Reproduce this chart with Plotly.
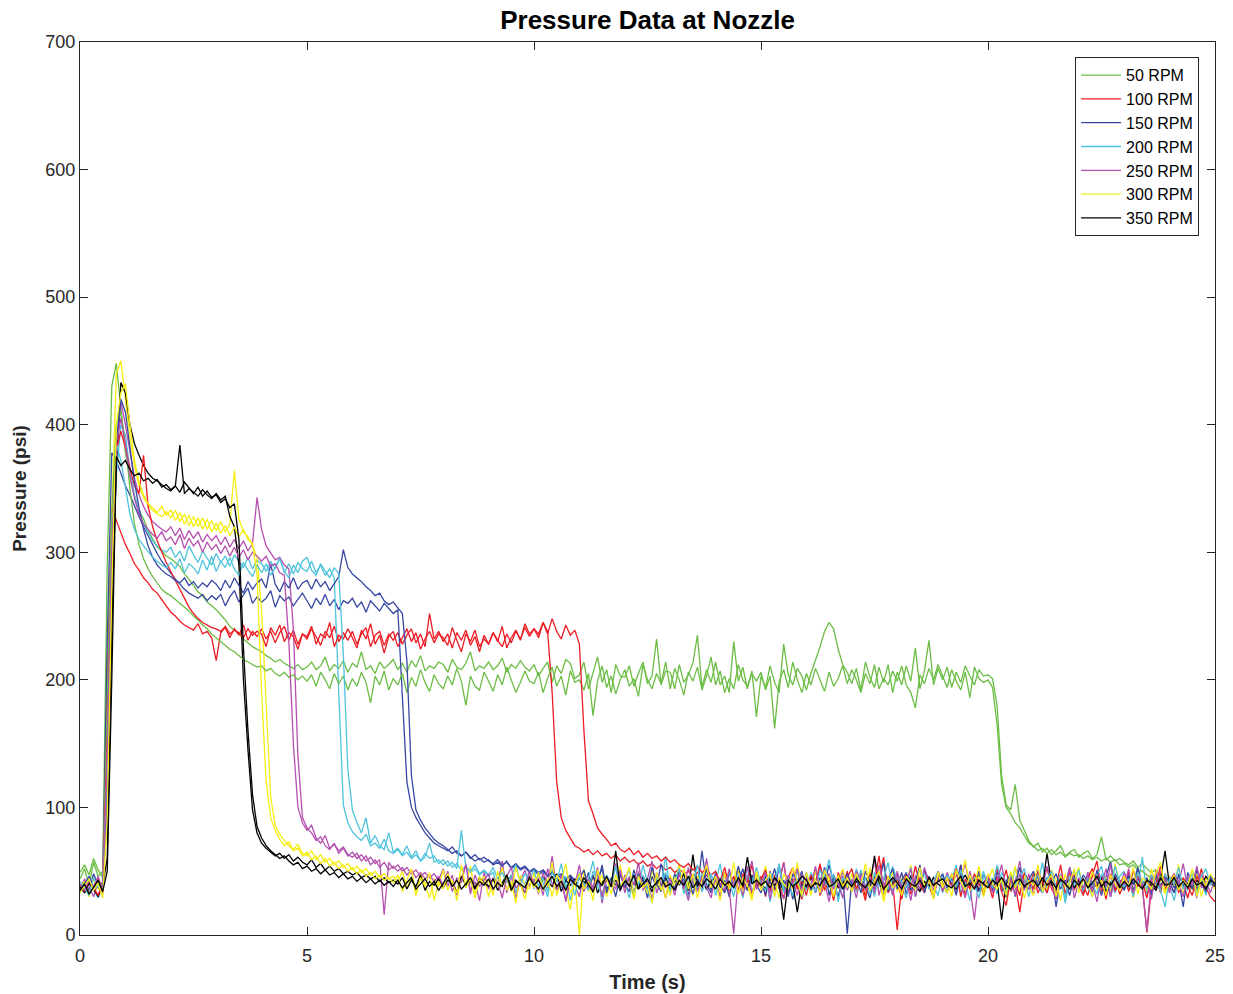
import plotly.graph_objects as go

# Time base: one sample every 0.1 s from 0 to 25 s
time_s = [round(i * 0.1, 1) for i in range(251)]

rpm_labels = ["50 RPM", "100 RPM", "150 RPM", "200 RPM", "250 RPM", "300 RPM", "350 RPM"]

# ---------------- 50 RPM ----------------
p50_a = [
    44, 52, 39, 57, 46, 50, 290, 430, 448, 415,
    378, 358, 344, 333, 326, 317, 311, 304, 301, 297,
    295, 292, 289, 283, 279, 274, 269, 266, 261, 258,
    255, 251, 247, 242, 239, 236, 232, 229, 226, 224,
    222, 219, 217, 214, 216, 213, 211, 209, 212, 208,
    210, 214, 208, 211, 218, 207, 212, 209, 215, 206,
    213, 210, 222, 208, 211, 205, 214, 209, 212, 216,
    208, 213, 206, 215, 210, 219, 207, 211, 209, 214,
    212, 206, 216, 210, 208, 213, 222, 207, 211, 209,
    214, 208, 211, 217, 206, 212, 209, 215, 210, 207,
    212, 203, 209, 214, 198, 211, 205, 216, 213, 201,
    204, 214, 193, 206, 218, 198, 208, 190, 212, 203,
    202, 211, 195, 205, 214, 197, 203, 232, 196, 207,
    206, 193, 212, 198, 204, 213, 235, 194, 208, 198,
    214, 196, 203, 190, 230, 199, 210, 193, 207, 171,
    203, 194, 211, 198, 190, 228, 204, 196, 209, 203,
    192, 205, 215, 226, 238, 245, 240, 224, 212, 206,
    197, 209, 192, 214, 202, 194, 210, 198, 212, 190,
    206, 196, 211, 199, 225, 193, 207, 231, 196, 209,
    200, 210, 194, 206, 198, 211, 203, 196, 208, 203,
    204, 201, 180, 125, 102, 98, 118, 90, 82, 74,
    69, 72, 65, 68, 63, 66, 70, 62, 65, 67,
    61, 64, 66, 60, 63, 77, 59, 62, 58, 60,
    57, 55, 58, 53, 56, 52, 49, 51, 47, 44,
    42, 46, 38, 41, 44, 36, 40, 43, 37, 41,
    39,
]
p50_b = [
    49, 55, 47, 60, 51, 45, 180, 330, 400, 410,
    385, 350, 322, 306, 295, 287, 281, 276, 271, 268,
    266, 263, 260, 257, 254, 250, 247, 243, 240, 236,
    233, 230, 227, 224, 222, 219, 216, 214, 212, 210,
    211, 207, 209, 205, 203, 206, 202, 204, 200, 203,
    199, 204, 195, 206, 200, 193, 205, 197, 203, 192,
    201, 195, 206, 198, 182, 203, 196, 207, 192, 201,
    196, 205, 190, 202, 195, 208, 198, 191, 204, 197,
    193, 203, 196, 209, 199, 180, 203, 195, 192, 206,
    199, 191, 204, 196, 210, 200, 190, 198, 207, 199,
    197, 206, 190, 201, 210, 195, 203, 188, 207, 198,
    200, 192, 205, 172, 199, 211, 194, 203, 189, 200,
    208, 195, 201, 187, 212, 200, 193, 205, 197, 214,
    193, 209, 200, 188, 206, 199, 210, 192, 203, 218,
    196, 207, 190, 201, 193, 212, 200, 195, 205, 199,
    206, 192, 203, 162, 199, 208, 194, 214, 200, 190,
    205, 196, 209, 200, 191, 206, 195, 201, 211, 197,
    208, 200, 190, 205, 197, 212, 193, 201, 196, 207,
    199, 211, 196, 190, 178, 204, 197, 209, 200, 212,
    203, 194, 208, 199, 192, 206, 186, 210, 201, 198,
    200, 194, 165, 118, 100, 95, 88, 84, 78, 72,
    70, 66, 68, 64, 67, 63, 65, 61, 64, 62,
    63, 60, 62, 59, 61, 58, 60, 57, 59, 55,
    56, 53, 55, 51, 50, 47, 45, 43, 46, 41,
    39, 43, 37, 40, 44, 38, 35, 41, 39, 42,
    40,
]

# ---------------- 100 RPM ----------------
p100_a = [
    36, 41, 33, 38, 45, 35, 200, 335, 325, 316,
    306, 299, 291, 286, 280, 276, 271, 268, 263, 258,
    253, 250, 246, 243, 241, 239, 244, 236, 238, 233,
    215, 237, 241, 233, 240, 235, 243, 231, 238, 234,
    240, 232, 238, 229, 237, 242, 231, 239, 228, 236,
    232, 240, 234, 227, 238, 233, 242, 230, 237, 231,
    238, 228, 236, 241, 226, 235, 238, 227, 236, 231,
    237, 228, 235, 240, 229, 236, 226, 252, 232, 238,
    230, 236, 225, 237, 231, 239, 227, 234, 222, 235,
    228, 237, 231, 226, 236, 229, 238, 232, 241, 234,
    240, 236, 245, 238, 190, 120, 92, 82, 76, 70,
    68, 65, 67, 63, 66, 62, 64, 60, 63, 58,
    61, 57, 59, 55, 58, 54, 56, 52, 55, 51,
    53, 49, 52, 48, 50, 46, 49, 44, 47, 43,
    45, 38, 49, 33, 43, 52, 36, 47, 31, 41,
    46, 30, 50, 35, 42, 57, 33, 44, 39, 28,
    45, 37, 52, 31, 40, 48, 29, 43, 38, 50,
    34, 46, 40, 27, 49, 38, 44, 61, 33, 41,
    4, 39, 47, 32, 42, 36, 51, 38, 29, 45,
    40, 33, 48, 37, 55, 31, 43, 39, 47, 35,
    42, 29, 46, 38, 51, 34, 40, 18, 44, 37,
    48, 33, 41, 53, 36, 30, 45, 39, 49, 35,
    43, 38, 31, 47, 58, 34, 42, 37, 46, 32,
    40, 49, 35, 44, 38, 2, 37, 45, 33, 48,
    39, 34, 46, 41, 29, 44, 37, 52, 36, 43,
    41,
]
p100_b = [
    40, 34, 43, 37, 31, 42, 150, 290, 380, 395,
    382, 366, 352, 346, 376, 336, 320, 309, 300, 292,
    285, 278, 270, 263, 257, 252, 248, 245, 243, 241,
    240, 238, 242, 236, 239, 237, 233, 240, 235, 238,
    236, 226, 241, 235, 243, 230, 237, 234, 224, 236,
    234, 242, 228, 236, 233, 245, 226, 235, 232, 240,
    233, 225, 239, 232, 244, 228, 235, 221, 234, 238,
    226, 233, 240, 230, 237, 224, 232, 238, 229, 236,
    233, 227, 241, 231, 222, 236, 230, 239, 226, 232,
    228, 237, 230, 242, 225, 233, 239, 231, 244, 236,
    240, 233, 245, 236, 248, 238, 232, 243, 235, 239,
    228, 160, 105, 95, 84, 79, 75, 70, 72, 67,
    65, 68, 63, 66, 61, 64, 60, 62, 58, 61,
    57, 59, 55, 53, 56, 51, 54, 49, 52, 47,
    50, 42, 53, 38, 46, 35, 48, 41, 55, 37,
    44, 51, 34, 47, 39, 29, 45, 53, 36, 42,
    31, 47, 40, 56, 35, 43, 27, 49, 38, 45,
    52, 36, 44, 30, 47, 41, 62, 35, 46, 39,
    43, 28, 48, 37, 54, 40, 33, 46, 38, 50,
    35, 45, 39, 52, 30, 44, 36, 48, 41, 33,
    47, 38, 53, 34, 23, 45, 40, 31, 49, 42,
    36, 50, 41, 33, 46, 38, 55, 32, 44, 47,
    39, 31, 45, 52, 37, 43, 28, 48, 35, 41,
    46, 34, 51, 38, 42, 29, 47, 40, 54, 36,
    42, 48, 33, 45, 38, 31, 46, 40, 37, 30,
    26,
]

# ---------------- 150 RPM ----------------
p150_a = [
    37, 43, 35, 48, 39, 41, 230, 378, 372, 362,
    352, 345, 336, 328, 320, 313, 305, 299, 293, 288,
    283, 279, 275, 271, 268, 266, 264, 267, 262, 266,
    263, 267, 258, 265, 270, 261, 266, 272, 260, 265,
    261, 264, 270, 257, 266, 262, 265, 258, 263, 268,
    262, 256, 264, 259, 267, 258, 263, 255, 262, 260,
    264, 257, 261, 253, 262, 258, 254, 260, 256, 252,
    255, 190, 120, 100, 92, 86, 80, 76, 72, 70,
    68, 66, 69, 64, 62, 65, 60, 63, 59, 61,
    58, 56, 59, 55, 57, 53, 56, 52, 54, 50,
    52, 49, 51, 47, 50, 46, 48, 44, 47, 43,
    45, 38, 49, 33, 44, 52, 36, 42, 30, 47,
    40, 34, 51, 38, 44, 29, 46, 37, 56, 41,
    35, 48, 39, 44, 31, 47, 36, 66, 40, 33,
    49, 37, 43, 30, 46, 41, 52, 35, 44, 38,
    44, 31, 48, 36, 53, 39, 45, 28, 42, 50,
    36, 47, 33, 45, 39, 55, 41, 30, 46, 1,
    43, 35, 50, 38, 29, 46, 40, 57, 34, 44,
    38, 49, 32, 45, 40, 36, 51, 43, 30, 47,
    41, 33, 47, 39, 55, 35, 44, 37, 50, 31,
    45, 38, 52, 34, 42, 48, 30, 46, 39, 43,
    36, 50, 41, 33, 47, 22, 45, 38, 53, 40,
    44, 35, 49, 37, 42, 31, 46, 58, 36, 43,
    39, 47, 34, 51, 40, 45, 32, 48, 37, 42,
    46, 37, 43, 22, 49, 41, 35, 47, 38, 44,
    40,
]
p150_b = [
    34, 40, 46, 36, 42, 33, 120, 290, 385, 420,
    410, 382, 355, 335, 318, 305, 296, 290, 286, 283,
    281, 278, 276, 280, 274, 277, 272, 276, 273, 278,
    275, 270, 278, 272, 280, 274, 268, 277, 271, 276,
    279, 272, 291, 275, 269, 277, 272, 280, 271, 276,
    278, 271, 279, 273, 277, 270, 276, 281, 302, 288,
    283, 280, 277, 273, 270, 266, 268, 262, 259, 261,
    256, 252, 215, 125, 98, 90, 84, 79, 75, 72,
    70, 67, 64, 66, 62, 65, 61, 58, 60, 57,
    59, 55, 57, 54, 58, 52, 55, 51, 53, 49,
    51, 47, 50, 46, 49, 44, 47, 43, 46, 42,
    44, 51, 36, 46, 40, 55, 33, 45, 39, 48,
    37, 45, 31, 48, 42, 36, 53, 40, 34, 47,
    43, 36, 50, 39, 46, 32, 44, 38, 52, 35,
    45, 40, 33, 49, 37, 54, 41, 35, 47, 39,
    33, 46, 40, 52, 36, 43, 30, 48, 41, 37,
    49, 35, 44, 38, 53, 31, 45, 40, 36, 48,
    39, 46, 33, 50, 42, 36, 47, 31, 44, 52,
    36, 43, 49, 35, 41, 55, 33, 46, 39, 42,
    48, 37, 44, 31, 50, 38, 45, 40, 34, 47,
    41, 35, 49, 43, 30, 46, 39, 53, 37, 44,
    50, 38, 33, 45, 41, 48, 36, 43, 31, 46,
    39, 47, 42, 34, 51, 37, 44, 30, 48, 41,
    35, 46, 40, 53, 38, 43, 31, 47, 39, 45,
    42, 33, 48, 38, 45, 36, 51, 40, 34, 46,
    39,
]

# ---------------- 200 RPM ----------------
p200_a = [
    39, 33, 44, 38, 29, 41, 110, 260, 360, 400,
    392, 365, 345, 332, 322, 315, 309, 305, 302, 300,
    304, 296, 301, 293, 305, 298, 292, 301, 296, 290,
    299, 292, 297, 289, 298, 293, 288, 296, 287, 294,
    291, 285, 293, 287, 296, 284, 291, 283, 292, 287,
    285, 293, 284, 290, 282, 287, 280, 190, 102, 88,
    81, 77, 74, 79, 70, 72, 68, 75, 66, 64,
    67, 62, 65, 60, 63, 58, 61, 72, 57, 59,
    55, 58, 53, 56, 51, 54, 49, 52, 47, 50,
    46, 49, 38, 53, 42, 47, 33, 45, 39, 51,
    36, 48, 41, 30, 52, 44, 37, 46, 27, 43,
    49, 35, 44, 58, 38, 31, 47, 40, 53, 36,
    42, 29, 48, 37, 55, 41, 34, 46, 39, 62,
    33, 45, 40, 51, 28, 44, 37, 49, 35, 47,
    41, 56, 36, 43, 30, 48, 39, 53, 34, 45,
    38, 47, 26, 44, 52, 37, 41, 31, 50, 43,
    35, 49, 42, 33, 46, 59, 38, 44, 29, 47,
    40, 34, 51, 37, 45, 30, 48, 42, 36, 54,
    43, 38, 29, 47, 41, 52, 35, 45, 39, 31,
    48, 36, 44, 55, 33, 42, 27, 46, 40, 50,
    37, 45, 32, 49, 41, 35, 53, 39, 44, 30,
    46, 40, 57, 34, 43, 38, 48, 25, 42, 51,
    36, 44, 39, 30, 47, 54, 37, 42, 33, 46,
    50, 35, 43, 38, 61, 32, 45, 40, 36, 48,
    39, 27, 46, 42, 35, 50, 38, 44, 31, 47,
    42,
]
p200_b = [
    42, 36, 31, 45, 37, 40, 130, 300, 385, 372,
    350, 330, 318, 310, 305, 300, 296, 293, 290, 288,
    292, 287, 295, 284, 291, 288, 283, 294, 286, 297,
    285, 293, 288, 296, 287, 282, 292, 286, 281, 290,
    284, 291, 282, 288, 295, 285, 280, 290, 284, 293,
    296, 286, 282, 291, 285, 280, 288, 283, 220, 130,
    98, 88, 80, 92, 72, 78, 70, 67, 80, 65,
    68, 63, 70, 61, 66, 58, 64, 60, 62, 56,
    59, 54, 57, 52, 82, 53, 50, 55, 48, 51,
    47, 53, 44, 49, 41, 46, 55, 40, 48, 43,
    51, 38, 45, 34, 49, 42, 56, 37, 44, 31,
    46, 40, 35, 50, 43, 28, 47, 39, 54, 36,
    44, 51, 33, 41, 47, 36, 25, 45, 40, 49,
    37, 43, 52, 32, 46, 39, 55, 34, 42, 48,
    31, 45, 38, 50, 36, 44, 29, 47, 41, 53,
    40, 35, 49, 42, 56, 33, 46, 38, 44, 30,
    47, 39, 34, 51, 43, 37, 48, 26, 45, 41,
    36, 52, 40, 45, 32, 49, 38, 44, 57, 35,
    46, 41, 37, 53, 30, 44, 48, 36, 42, 50,
    33, 47, 42, 38, 51, 35, 45, 40, 29, 46,
    43, 37, 55, 41, 34, 48, 39, 45, 52, 36,
    40, 47, 33, 44, 50, 37, 42, 29, 46, 39,
    51, 35, 45, 40, 32, 48, 43, 37, 54, 41,
    38, 44, 30, 49, 42, 36, 47, 41, 35, 22,
    45, 40, 53, 36, 43, 48, 31, 46, 52, 39,
    44,
]

# ---------------- 250 RPM ----------------
p250_a = [
    35, 44, 38, 30, 42, 37, 100, 250, 370, 418,
    400, 378, 358, 345, 336, 329, 324, 321, 318, 316,
    320, 313, 319, 310, 317, 311, 316, 308, 314, 309,
    313, 306, 312, 304, 310, 303, 309, 301, 307, 343,
    318, 305, 299, 294, 296, 290, 287, 240, 140, 92,
    84, 80, 74, 77, 70, 67, 72, 64, 68, 62,
    65, 60, 63, 58, 61, 56, 59, 16, 57, 52,
    55, 50, 53, 48, 51, 46, 49, 45, 48, 43,
    52, 38, 47, 31, 44, 56, 35, 42, 27, 49,
    36, 45, 40, 58, 33, 47, 29, 43, 51, 38,
    44, 32, 49, 37, 62, 35, 41, 28, 46, 39,
    30, 48, 42, 36, 53, 25, 45, 39, 56, 34,
    47, 40, 31, 50, 37, 44, 58, 33, 42, 29,
    45, 36, 52, 39, 27, 48, 41, 35, 60, 38,
    43, 30, 49, 36, 1, 46, 39, 54, 32, 44,
    37, 51, 28, 45, 40, 57, 34, 42, 31, 48,
    39, 46, 33, 55, 41, 26, 47, 38, 50, 35,
    44, 29, 48, 37, 42, 59, 31, 45, 40, 34,
    50, 38, 43, 27, 47, 35, 53, 41, 30, 46,
    36, 49, 40, 33, 45, 56, 38, 12, 44, 41,
    47, 34, 51, 39, 30, 45, 42, 58, 35, 48,
    32, 43, 37, 54, 40, 28, 46, 39, 51, 36,
    45, 33, 49, 41, 26, 47, 38, 55, 34, 42,
    39, 52, 30, 46, 37, 3, 44, 35, 50, 41,
    33, 47, 40, 56, 36, 43, 29, 48, 38, 45,
    40,
]
p250_b = [
    40, 35, 43, 37, 46, 32, 140, 300, 385, 405,
    385, 360, 342, 330, 322, 318, 314, 311, 316, 309,
    312, 306, 314, 303, 311, 305, 309, 300, 308, 302,
    306, 299, 305, 297, 304, 296, 302, 294, 300, 297,
    293, 297, 289, 291, 284, 282, 230, 150, 100, 88,
    82, 86, 76, 72, 78, 68, 71, 66, 69, 63,
    61, 64, 58, 62, 55, 59, 53, 57, 51, 54,
    50, 53, 47, 51, 45, 49, 44, 47, 42, 46,
    39, 50, 34, 45, 41, 55, 32, 47, 38, 43,
    48, 35, 42, 29, 46, 53, 37, 41, 33, 50,
    38, 45, 31, 52, 40, 36, 47, 26, 44, 39,
    55, 34, 43, 38, 48, 30, 45, 41, 36, 51,
    33, 46, 39, 57, 35, 42, 28, 49, 40, 37,
    44, 31, 48, 36, 53, 41, 34, 46, 38, 29,
    47, 40, 35, 52, 38, 43, 31, 45, 58, 36,
    41, 49, 33, 44, 37, 28, 47, 40, 52, 35,
    45, 38, 54, 32, 43, 48, 36, 41, 29, 46,
    37, 50, 42, 35, 46, 33, 55, 39, 44, 31,
    48, 36, 41, 52, 30, 45, 38, 43, 35, 49,
    34, 44, 38, 47, 41, 29, 50, 36, 43, 39,
    46, 33, 42, 55, 37, 44, 31, 48, 40, 36,
    43, 51, 35, 40, 47, 32, 45, 38, 53, 29,
    41, 37, 48, 34, 45, 39, 52, 30, 44, 36,
    49, 40, 33, 46, 38, 43, 28, 51, 37, 44,
    35, 48, 41, 30, 46, 39, 54, 37, 42, 33,
    45,
]

# ---------------- 300 RPM ----------------
p300_a = [
    37, 42, 30, 45, 36, 39, 120, 330, 440, 450,
    420, 390, 368, 352, 343, 337, 333, 330, 328, 332,
    327, 333, 324, 330, 321, 328, 320, 327, 318, 325,
    317, 324, 316, 322, 364, 326, 316, 312, 305, 296,
    255, 175, 108, 86, 79, 74, 70, 67, 71, 64,
    62, 66, 59, 63, 57, 60, 55, 58, 53, 56,
    51, 54, 49, 52, 47, 50, 45, 48, 44, 46,
    42, 50, 37, 45, 33, 48, 40, 29, 44, 38,
    51, 35, 43, 27, 47, 39, 54, 32, 41, 46,
    30, 44, 38, 53, 35, 42, 25, 47, 40, 36,
    49, 33, 45, 38, 57, 31, 43, 36, 20, 44,
    0, 52, 34, 46, 41, 47, 30, 45, 38, 55,
    36, 43, 28, 48, 40, 33, 51, 37, 45, 29,
    47, 39, 56, 34, 42, 31, 46, 38, 53, 35,
    41, 27, 49, 36, 44, 52, 33, 40, 30, 47,
    38, 54, 35, 43, 29, 48, 41, 36, 57, 33,
    45, 31, 50, 39, 35, 46, 28, 43, 52, 37,
    48, 36, 42, 30, 53, 38, 45, 26, 41, 49,
    34, 45, 39, 55, 31, 47, 36, 42, 28, 50,
    40, 33, 48, 37, 44, 59, 35, 41, 46, 30,
    43, 52, 36, 45, 29, 40, 54, 33, 47, 38,
    31, 46, 40, 35, 51, 43, 27, 48, 37, 44,
    53, 36, 42, 30, 47, 39, 45, 34, 56, 40,
    37, 44, 29, 49, 41, 35, 52, 38, 43, 32,
    46, 39, 55, 33, 42, 37, 48, 30, 44, 41,
    36,
]
p300_b = [
    33, 38, 44, 35, 41, 29, 90, 270, 400, 425,
    432, 400, 372, 355, 345, 338, 335, 331, 336, 329,
    333, 325, 331, 322, 329, 320, 327, 318, 326, 316,
    323, 315, 321, 313, 320, 312, 318, 310, 307, 282,
    190, 120, 92, 82, 75, 70, 73, 66, 68, 62,
    65, 59, 62, 56, 60, 54, 57, 52, 55, 50,
    53, 48, 51, 46, 49, 44, 47, 43, 45, 41,
    47, 34, 43, 52, 31, 45, 38, 49, 27, 42,
    36, 48, 40, 33, 55, 37, 44, 29, 46, 39,
    43, 31, 50, 38, 46, 34, 53, 40, 28, 45,
    37, 49, 35, 44, 30, 47, 41, 56, 33, 40,
    48, 36, 42, 27, 51, 39, 45, 32, 47, 38,
    44, 53, 30, 46, 37, 41, 25, 49, 35, 42,
    31, 45, 40, 52, 36, 48, 29, 43, 55, 37,
    46, 34, 41, 38, 57, 32, 45, 39, 27, 50,
    35, 43, 48, 30, 45, 40, 36, 53, 41, 31,
    49, 37, 44, 33, 51, 42, 30, 47, 38, 45,
    34, 48, 39, 56, 35, 43, 50, 29, 46, 37,
    42, 31, 46, 40, 36, 53, 38, 44, 32, 49,
    37, 45, 30, 51, 42, 35, 47, 39, 54, 33,
    48, 40, 36, 44, 31, 50, 37, 45, 29, 43,
    39, 55, 34, 42, 47, 30, 46, 38, 41, 52,
    33, 44, 39, 50, 36, 43, 31, 47, 40, 35,
    46, 38, 53, 32, 45, 41, 36, 49, 57, 34,
    40, 47, 35, 43, 38, 52, 30, 45, 39, 48,
    42,
]

# ---------------- 350 RPM ----------------
p350_a = [
    38, 33, 41, 36, 30, 39, 60, 240, 370, 433,
    425, 400, 385, 376, 368, 362, 358, 356, 353, 350,
    348, 352, 384, 346, 350, 347, 344, 349, 345, 342,
    346, 341, 344, 328, 320, 290, 200, 145, 98, 80,
    72, 68, 65, 62, 64, 60, 63, 58, 61, 57,
    55, 59, 53, 56, 51, 54, 50, 52, 48, 50,
    47, 49, 45, 47, 44, 46, 42, 45, 41, 43,
    40, 45, 36, 43, 38, 47, 35, 42, 39, 44,
    37, 43, 40, 34, 46, 39, 42, 36, 45, 41,
    38, 44, 35, 41, 47, 37, 43, 39, 33, 46,
    40, 36, 45, 42, 38, 48, 34, 43, 39, 44,
    36, 42, 39, 47, 33, 41, 45, 38, 43, 35,
    44, 38, 41, 36, 46, 40, 34, 43, 39, 45,
    37, 43, 40, 48, 35, 63, 38, 44, 36, 42,
    45, 39, 34, 42, 37, 44, 40, 36, 47, 38,
    41, 36, 44, 39, 43, 34, 46, 40, 18, 42,
    38, 45, 40, 35, 43, 39, 46, 37, 41, 44,
    36, 42, 39, 45, 38, 62, 40, 35, 44, 41,
    43, 37, 41, 46, 39, 34, 42, 38, 45, 40,
    37, 44, 40, 36, 42, 47, 39, 43, 35, 41,
    44, 38, 42, 12, 40, 45, 37, 43, 39, 36,
    41, 46, 38, 64, 40, 35, 43, 39, 45, 37,
    42, 36, 44, 40, 38, 45, 34, 41, 43, 39,
    36, 43, 40, 46, 37, 42, 39, 35, 44, 66,
    38, 41, 36, 44, 40, 37, 43, 39, 46, 41,
    38,
]
p350_b = [
    35, 40, 32, 37, 43, 34, 50, 200, 375, 368,
    372, 365, 360, 362, 356, 358, 354, 357, 351, 353,
    349, 352, 347, 355, 350, 346, 351, 344, 348, 343,
    345, 339, 342, 335, 338, 310, 225, 160, 110, 85,
    76, 70, 66, 63, 60, 62, 58, 55, 57, 52,
    54, 50, 52, 48, 51, 47, 49, 45, 48, 44,
    46, 42, 45, 41, 44, 40, 43, 39, 42, 38,
    43, 37, 41, 45, 36, 40, 44, 38, 42, 35,
    41, 46, 38, 43, 36, 40, 45, 37, 42, 39,
    44, 36, 41, 38, 47, 35, 42, 40, 37, 45,
    39, 43, 36, 41, 46, 38, 42, 35, 44, 40,
    37, 45, 40, 34, 43, 39, 46, 38, 66, 36,
    42, 39, 47, 36, 40, 44, 37, 41, 45, 38,
    40, 35, 43, 39, 46, 37, 42, 38, 44, 41,
    36, 44, 39, 42, 37, 45, 38, 61, 40, 43,
    39, 42, 37, 45, 40, 12, 43, 38, 41, 46,
    43, 37, 41, 39, 45, 38, 40, 44, 36, 42,
    38, 44, 40, 37, 43, 39, 46, 36, 41, 45,
    41, 36, 44, 40, 38, 43, 37, 45, 39, 42,
    44, 39, 37, 42, 46, 38, 41, 36, 43, 40,
    37, 43, 40, 45, 39, 36, 42, 44, 38, 41,
    43, 38, 45, 39, 42, 37, 44, 40, 36, 43,
    39, 44, 37, 41, 46, 38, 42, 39, 45, 37,
    42, 38, 44, 40, 36, 43, 41, 37, 45, 39,
    40, 45, 38, 42, 37, 44, 39, 41, 36, 43,
    40,
]

series_a = [p50_a, p100_a, p150_a, p200_a, p250_a, p300_a, p350_a]
series_b = [p50_b, p100_b, p150_b, p200_b, p250_b, p300_b, p350_b]

colors = ["#6cbd45", "#ed1c24", "#3747a3", "#4fc3dc", "#b54fb0", "#f5ee14", "#000000"]

for name, s in zip(rpm_labels * 2, series_a + series_b):
    if len(s) != len(time_s):
        raise ValueError(f"{name}: {len(s)} values")

fig = go.Figure()
for runs, show in ((series_a, True), (series_b, False)):
    for label, vals, col in zip(rpm_labels, runs, colors):
        fig.add_trace(go.Scatter(
            x=time_s, y=vals, mode="lines", name=label,
            legendgroup=label, showlegend=show,
            line=dict(color=col, width=1.3),
        ))

FONT = "Liberation Sans, Arial, sans-serif"
axis_common = dict(
    showline=True, linecolor="#262626", linewidth=1, mirror="ticks",
    ticks="inside", ticklen=8, tickcolor="#262626", tickwidth=1,
    showgrid=False, zeroline=False, automargin=False,
    tickfont=dict(family=FONT, size=18, color="#262626"),
)

fig.update_layout(
    width=1233, height=994,
    margin=dict(l=80, r=18, t=42, b=59),
    paper_bgcolor="white", plot_bgcolor="white",
    font=dict(family=FONT, color="#000000"),
    title=dict(text="<b>Pressure Data at Nozzle</b>", x=0.5252, xanchor="center",
               y=0.98, yanchor="middle", font=dict(size=26, color="#000000")),
    xaxis=dict(range=[0, 25], dtick=5, tick0=0, ticklabelstandoff=4,
               title=dict(text="<b>Time (s)</b>", font=dict(size=20, color="#262626"), standoff=10),
               **axis_common),
    yaxis=dict(range=[0, 700], dtick=100, tick0=0,
               title=dict(text="<b>Pressure (psi)</b>", font=dict(size=19, color="#262626"), standoff=13),
               **axis_common),
    legend=dict(x=0.986, y=0.983, xanchor="right", yanchor="top",
                bgcolor="white", bordercolor="#262626", borderwidth=1,
                font=dict(size=16, color="#000000"), tracegroupgap=0,
                itemwidth=40),
    showlegend=True,
)

fig.write_html("out.html")
